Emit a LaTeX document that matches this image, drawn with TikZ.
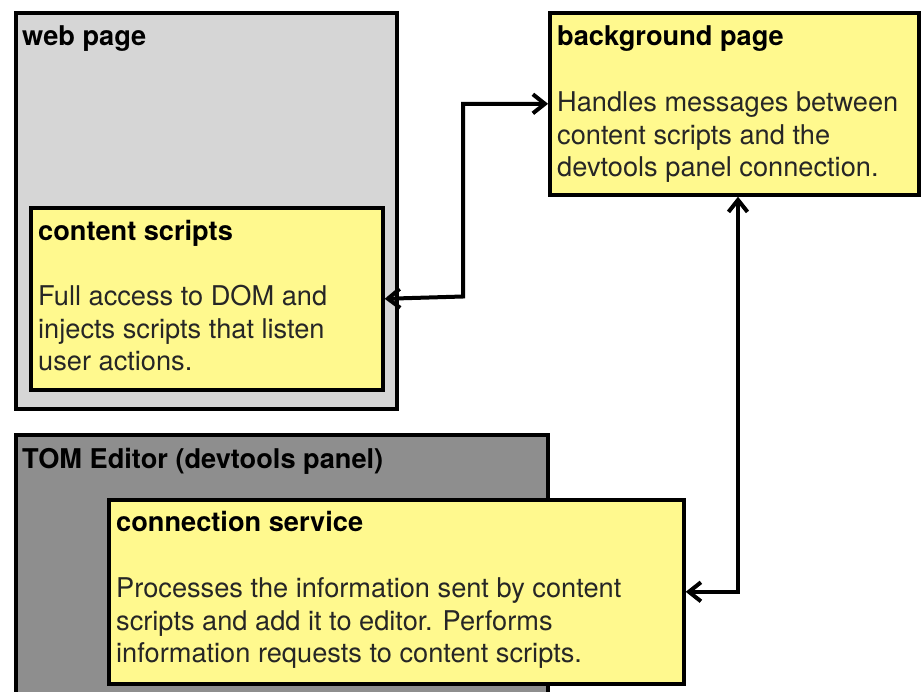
\documentclass[tikz,border=0pt]{standalone}
\usepackage{fontspec}
\setmainfont{TeX Gyre Heros}
\usetikzlibrary{arrows.meta}
\definecolor{note}{HTML}{FFF98E}
\definecolor{pagegray}{HTML}{D6D6D6}
\definecolor{panelgray}{HTML}{8E8E8E}
\definecolor{bodytext}{HTML}{262626}
\begin{document}
\begin{tikzpicture}[x=1pt,y=-1pt,
  frame/.style={draw=black, line width=3.8pt, inner sep=0pt, anchor=north west},
  notebox/.style={frame, fill=note},
  heading/.style={anchor=base west, inner sep=0pt, font=\fontsize{27.2}{33}\selectfont\bfseries, text=black},
  body/.style={anchor=base west, inner sep=0pt, font=\fontsize{27.2}{33}\selectfont, text=bodytext},
  link/.style={draw=black, line width=4pt, {Straight Barb[length=12pt,width=19pt]}-{Straight Barb[length=12pt,width=19pt]}}]
\useasboundingbox (0,0) rectangle (921,691);
% outer containers
\node[frame, fill=pagegray, minimum width=381pt, minimum height=396pt] (web) at (13.9,10.9) {};
\node[frame, fill=panelgray, minimum width=532pt, minimum height=280pt] (tom) at (13.9,432.9) {};
% yellow notes
\node[notebox, minimum width=352pt, minimum height=182pt] (cs) at (28.9,205.9) {};
\node[notebox, minimum width=369pt, minimum height=182pt] (bg) at (548.1,10.9) {};
\node[notebox, minimum width=575pt, minimum height=184pt] (conn) at (106.9,497.9) {};
% labels
\node[heading] (webT) at (22,45) {web page};
\node[heading] (tomT) at (22,468) {TOM Editor (devtools panel)};
\node[heading] (csT) at (38,240) {content scripts};
\node[body] (csB1) at (38,305) {Full access to DOM and};
\node[body] (csB2) at (38,338) {injects scripts that listen};
\node[body] (csB3) at (38,370) {user actions.};
\node[heading] (bgT) at (557,45) {background page};
\node[body] (bgB1) at (557,111) {Handles messages between};
\node[body] (bgB2) at (557,144) {content scripts and the};
\node[body] (bgB3) at (557,176) {devtools panel connection.};
\node[heading] (connT) at (116,531) {connection service};
\node[body] (connB1) at (116,597) {Processes the information sent by content};
\node[body] (connB2) at (116,630) {scripts and add it to editor. Performs};
\node[body] (connB3) at (116,662) {information requests to content scripts.};
% message routes
\coordinate (bendA) at (463,296.5);
\coordinate (bendB) at (738,0);
\draw[link] (cs.east) -- (bendA) |- (bg.west);
\draw[link] (bg.south -| bendB) |- (conn.east);
\end{tikzpicture}
\end{document}
